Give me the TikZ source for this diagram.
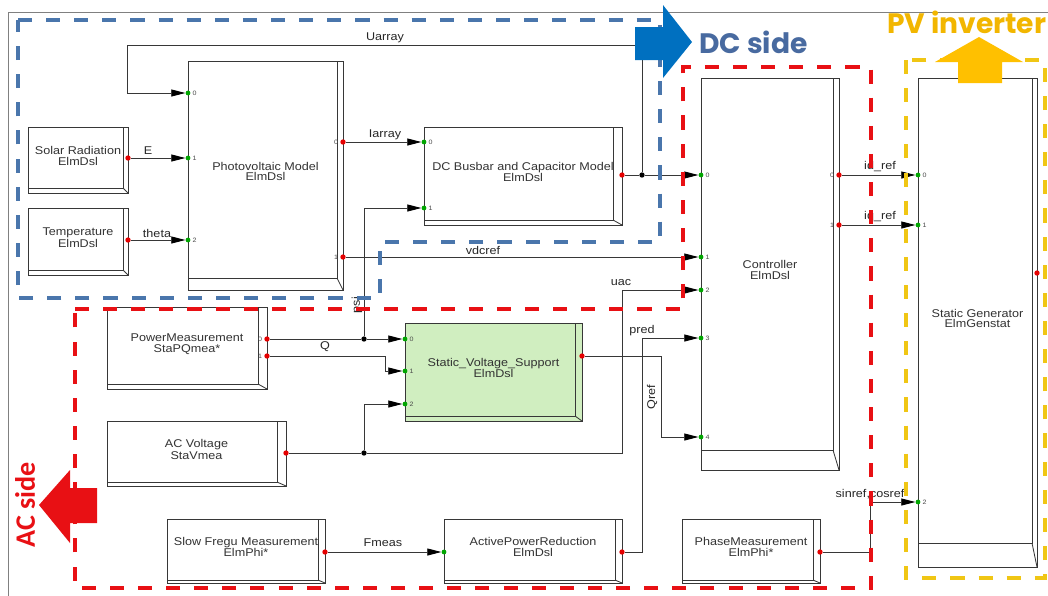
\documentclass[tikz,border=0pt]{standalone}
\usepackage{fontspec}
\setsansfont{Liberation Sans}
\newfontfamily\blkfont{Liberation Sans}[FakeStretch=1.12]
\newfontfamily\sidefont{Poppins}
\newfontfamily\acfont{Carlito}
\usetikzlibrary{arrows.meta, fit, calc}

\definecolor{dcblue}{RGB}{0,112,192}
\definecolor{dcdash}{RGB}{74,118,172}
\definecolor{dctext}{RGB}{72,106,160}
\definecolor{acred}{RGB}{232,16,20}
\definecolor{pvgold}{RGB}{255,192,0}
\definecolor{pvdash}{RGB}{240,198,20}
\definecolor{svsgreen}{RGB}{208,238,192}
\definecolor{wire}{RGB}{55,55,55}

\begin{document}
\begin{tikzpicture}[
  x=0.025cm, y=-0.025cm,
  font=\blkfont\fontsize{8}{7.2}\selectfont,
  blk/.style 2 args={draw=wire, line width=0.7pt, fill=white, inner sep=0pt, align=center, text=black!80,
    path picture={
      \draw[wire, line width=0.6pt] ([xshift=-#1*0.025cm]path picture bounding box.north east)
        |- ([yshift=#2*0.025cm]path picture bounding box.south west);
      \draw[wire, line width=0.6pt] ([xshift=-#1*0.025cm, yshift=#2*0.025cm]path picture bounding box.south east)
        -- (path picture bounding box.south east);}},
  inport/.style={circle, fill=green!65!black, inner sep=0pt, minimum size=3.4pt},
  outport/.style={circle, fill=red!90!black, inner sep=0pt, minimum size=3.8pt},
  junc/.style={circle, fill=black, inner sep=0pt, minimum size=3.8pt},
  pnum/.style={font=\blkfont\fontsize{4.5}{5}\selectfont, text=black!70, inner sep=1.2pt},
  flow/.style={draw=wire, line width=0.6pt, -{Triangle[length=10pt, width=5pt, color=black]}},
  wireln/.style={draw=wire, line width=0.6pt},
  sig/.style={text=black!85, inner sep=0pt},
  region/.style={line width=2.2pt, dash pattern=on 10pt off 10pt},
  sidetxt/.style={font=\sidefont\bfseries\fontsize{20}{20}\selectfont, inner sep=0pt}
]
\useasboundingbox (0,0) rectangle (1048,595);
\clip (0,0) rectangle (1048,595);

% --- outer sheet frame ---
\draw[black!50, line width=0.5pt] (8,12) rectangle (1060,610);

% --- DSL blocks ---
\node[blk={5}{5},  fit={(28,127) (128,193)}]  (solar) {Solar Radiation\\ElmDsl};
\node[blk={5}{5},  fit={(28,208) (128,275)}]  (temp)  {Temperature\\ElmDsl};
\node[blk={6}{12}, fit={(188,61) (343,290)}]  (pv)    {Photovoltaic Model\\ElmDsl};
\node[blk={9}{5},  fit={(424,127) (622,225)}] (dc)    {DC Busbar and Capacitor Model\\ElmDsl};
\node[blk={6}{20}, fit={(701,78) (839,470)}]  (ctl)   {Controller\\ElmDsl};
\node[blk={5}{24}, fit={(918,78) (1037,567)}] (sg)    {Static Generator\\ElmGenstat};
\node[blk={9}{5},  fit={(107,307) (267,389)}] (pm)    {PowerMeasurement\\StaPQmea*};
\node[blk={7}{5},  fit={(405,323) (582,421)}, fill=svsgreen] (svs) {Static\_Voltage\_Support\\ElmDsl};
\node[blk={9}{4},  fit={(107,421) (286,486)}] (ac)    {AC Voltage\\StaVmea};
\node[blk={7}{3},  fit={(167,519) (325,583)}] (sfm)   {Slow Fregu Measurement\\ElmPhi*};
\node[blk={7}{3},  fit={(444,519) (622,583)}] (apr)   {ActivePowerReduction\\ElmDsl};
\node[blk={7}{3},  fit={(682,519) (820,583)}] (ph)    {PhaseMeasurement\\ElmPhi*};

% --- ports ---
\node[outport] (solar-o) at (128,158) {};
\node[outport] (temp-o) at (128,240) {};
\node[inport, label={[pnum]right:0}] (pv-i0) at (188,93) {};
\node[inport, label={[pnum]right:1}] (pv-i1) at (188,158) {};
\node[inport, label={[pnum]right:2}] (pv-i2) at (188,240) {};
\node[outport, label={[pnum]left:0}] (pv-o0) at (343,142) {};
\node[outport, label={[pnum]left:1}] (pv-o1) at (343,257) {};
\node[inport, label={[pnum]right:0}] (dc-i0) at (424,142) {};
\node[inport, label={[pnum]right:1}] (dc-i1) at (424,208) {};
\node[outport] (dc-o) at (622,175) {};
\node[inport, label={[pnum]right:0}] (ctl-i0) at (701,175) {};
\node[inport, label={[pnum]right:1}] (ctl-i1) at (701,257) {};
\node[inport, label={[pnum]right:2}] (ctl-i2) at (701,290) {};
\node[inport, label={[pnum]right:3}] (ctl-i3) at (701,338) {};
\node[inport, label={[pnum]right:4}] (ctl-i4) at (701,437) {};
\node[outport, label={[pnum]left:0}] (ctl-o0) at (839,175) {};
\node[outport, label={[pnum]left:1}] (ctl-o1) at (839,225) {};
\node[inport, label={[pnum]right:0}] (sg-i0) at (918,175) {};
\node[inport, label={[pnum]right:1}] (sg-i1) at (918,225) {};
\node[inport, label={[pnum]right:2}] (sg-i2) at (918,502) {};
\node[outport] (sg-o) at (1037,273) {};
\node[outport, label={[pnum]left:0}] (pm-o0) at (267,339) {};
\node[outport, label={[pnum]left:1}] (pm-o1) at (267,356) {};
\node[inport, label={[pnum]right:0}] (svs-i0) at (405,339) {};
\node[inport, label={[pnum]right:1}] (svs-i1) at (405,371) {};
\node[inport, label={[pnum]right:2}] (svs-i2) at (405,404) {};
\node[outport] (svs-o) at (582,356) {};
\node[outport] (ac-o) at (286,453) {};
\node[outport] (sfm-o) at (325,552) {};
\node[inport] (apr-i) at (444,552) {};
\node[outport] (apr-o) at (622,552) {};
\node[outport] (ph-o) at (820,552) {};

% branch points
\node[junc] (dcj) at (642,175) {};
\node[junc] (pmj) at (364,339) {};
\node[junc] (acj) at (364,453) {};

% --- signals ---
\draw[flow] (solar-o) -- (pv-i1);
\draw[flow] (temp-o) -- (pv-i2);
\draw[flow] (pv-o0) -- (dc-i0);
\draw[flow] (pv-o1) -- (ctl-i1);
\draw[wireln] (dc-o) -- (dcj);
\draw[flow] (dcj) -- (ctl-i0);
\draw[flow] (dcj) |- (127,45) |- (pv-i0);
\draw[wireln] (pm-o0) -- (pmj);
\draw[flow] (pmj) -- (svs-i0);
\draw[flow] (pmj) |- (dc-i1);
\draw[flow] (pm-o1) -| (385,371) -- (svs-i1);
\draw[wireln] (ac-o) -- (acj);
\draw[flow] (acj) |- (svs-i2);
\draw[flow] (acj) -| (622,290) -- (ctl-i2);
\draw[flow] (svs-o) -| (661,437) -- (ctl-i4);
\draw[flow] (sfm-o) -- (apr-i);
\draw[flow] (apr-o) -| (642,338) -- (ctl-i3);
\draw[flow] (ctl-o0) -- (sg-i0);
\draw[flow] (ctl-o1) -- (sg-i1);
\draw[flow] (ph-o) -| (870,502) -- (sg-i2);

% signal names
\node[sig] (l-uarray) at (385,38) {Uarray};
\node[sig] (l-e) at (148,151) {E};
\node[sig] (l-theta) at (157,233) {theta};
\node[sig] (l-iarray) at (385,135) {Iarray};
\node[sig] (l-vdcref) at (483,250) {vdcref};
\node[sig] (l-uac) at (621,283) {uac};
\node[sig, rotate=90] (l-psi) at (357,305) {psi};
\node[sig] (l-q) at (325,347) {Q};
\node[sig] (l-pred) at (642,331) {pred};
\node[sig, rotate=90] (l-qref) at (652,397) {Qref};
\node[sig] (l-fmeas) at (383,543) {Fmeas};
\node[sig] (l-idref) at (880,167) {id\_ref};
\node[sig] (l-iqref) at (880,217) {iq\_ref};
\node[sig] (l-sincos) at (870,494) {sinref,cosref};

% --- DC / AC / inverter regions ---
\draw[region, dcdash] (18,20) -- (660,20) -- (660,242) -- (380,242) -- (380,298) -- (18,298) -- cycle;
\draw[region, acred] (75,309) -- (683,309) -- (683,67) -- (871,67) -- (871,588) -- (75,588) -- cycle;
\draw[region, pvdash] (906,60) rectangle (1045,578);

% --- side arrows and titles ---
\fill[dcblue] (635,27) -- (663,27) -- (663,5) -- (692,42) -- (663,78) -- (663,60) -- (635,60) -- cycle;
\fill[pvgold] (958,83) -- (958,62) -- (935,62) -- (979,37) -- (1023,62) -- (1002,62) -- (1002,83) -- cycle;
\fill[acred] (97,488) -- (70,488) -- (70,470) -- (39,505) -- (70,543) -- (70,523) -- (97,523) -- cycle;

\node[sidetxt, text=dctext, anchor=base west] (dcside) at (699,53) {DC side};
\node[sidetxt, text=pvgold!95!black, anchor=base west] (pvside) at (887,33) {PV inverter};
\node[text=acred, rotate=90, inner sep=0pt, font=\acfont\bfseries\fontsize{20}{20}\selectfont] (acside) at (25,505) {AC side};

\end{tikzpicture}
\end{document}
